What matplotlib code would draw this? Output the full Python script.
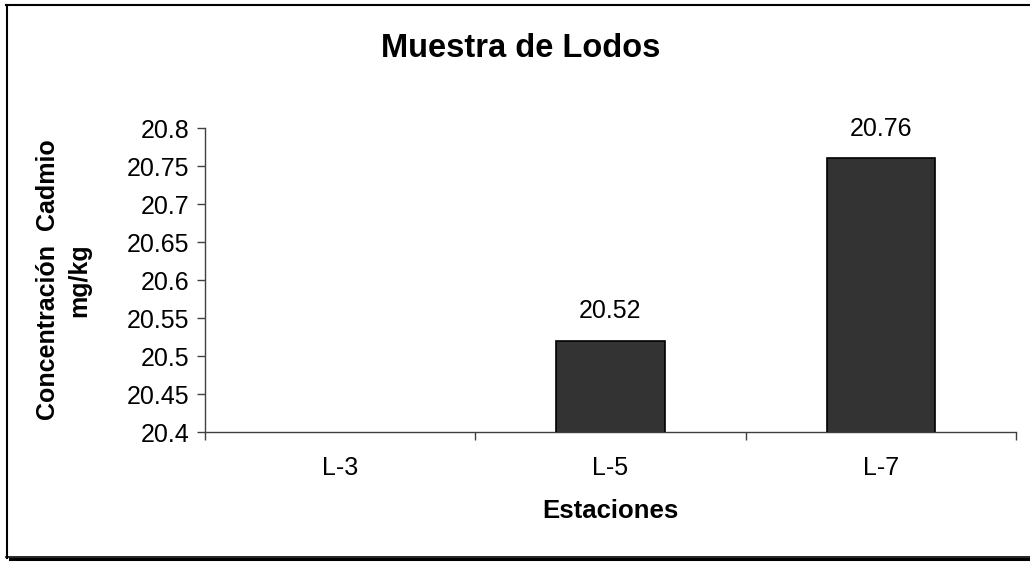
import numpy as np
import matplotlib
matplotlib.use("Agg")
import matplotlib.pyplot as plt
from matplotlib.lines import Line2D

categories = ["L-3", "L-5", "L-7"]
values = [np.nan, 20.52, 20.76]
labels = ["", "20.52", "20.76"]
yticks = [20.4, 20.45, 20.5, 20.55, 20.6, 20.65, 20.7, 20.75, 20.8]
ytick_labels = ["20.4", "20.45", "20.5", "20.55", "20.6", "20.65", "20.7", "20.75", "20.8"]

plt.rcParams['font.family'] = ['Liberation Sans', 'DejaVu Sans']

W, H = 1030, 562
fig = plt.figure(figsize=(W/100, H/100), dpi=100)
ax = fig.add_axes([205/W, 1-432/H, (1016-205)/W, (432-128)/H])

x = np.arange(len(categories))
ax.bar(x, values, width=0.4, color='#333333', edgecolor='black', linewidth=1.2, zorder=3)
for xi, v, lab in zip(x, values, labels):
    if lab and not np.isnan(v):
        ax.annotate(lab, (xi, v), xytext=(0, 12.5), textcoords='offset points',
                    ha='center', va='bottom', fontsize=18)

ax.set_xlim(-0.5, len(categories)-0.5)
ax.set_ylim(20.4, 20.8)
ax.set_yticks(yticks)
ax.set_yticklabels(ytick_labels, fontsize=18)
ax.set_xticks(x)
ax.set_xticklabels(categories, fontsize=18)
ax.set_xticks(np.arange(-0.5, len(categories), 1.0), minor=True)
ax.tick_params(axis='x', which='major', length=0, pad=17)
ax.tick_params(axis='x', which='minor', length=6, width=1, color='#404040', direction='out')
ax.tick_params(axis='y', length=6, width=1, color='#404040', pad=5)

for s in ['top', 'right']:
    ax.spines[s].set_visible(False)
for s in ['left', 'bottom']:
    ax.spines[s].set_color('#404040')
    ax.spines[s].set_linewidth(1)

ax.set_xlabel("Estaciones", fontsize=18.5, fontweight='bold', labelpad=14)
ax.set_ylabel("Concentración  Cadmio\nmg/kg", fontsize=18, fontweight='bold', labelpad=26,
              linespacing=1.35)

fig.text(521/W, 1-57/H, "Muestra de Lodos", fontsize=23.5, fontweight='bold',
         ha='center', va='baseline')

# figure frame
fig.add_artist(Line2D([6.5/W, 6.5/W], [1-5/H, 1-558/H], color='black', lw=1.5, transform=fig.transFigure))
fig.add_artist(Line2D([6/W, 1], [1-5/H, 1-5/H], color='black', lw=1.5, transform=fig.transFigure))
fig.add_artist(Line2D([6/W, 1], [1-557/H, 1-557/H], color='black', lw=1.2, transform=fig.transFigure))
fig.add_artist(Line2D([10/W, 1], [1-559/H, 1-559/H], color='black', lw=2.2, transform=fig.transFigure))

fig.savefig("out.png", dpi=100)
